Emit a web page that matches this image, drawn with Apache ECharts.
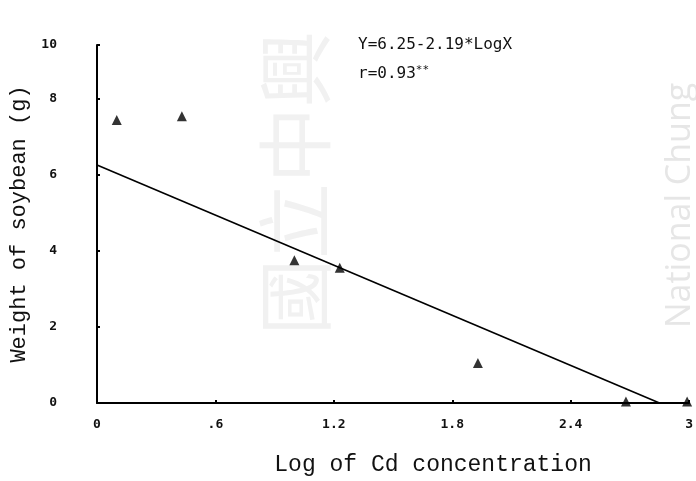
<!DOCTYPE html>
<html>
<head>
<meta charset="utf-8">
<script src="https://cdn.jsdelivr.net/npm/echarts@6/dist/echarts.min.js"></script>
<style>html,body{margin:0;padding:0;background:#fff}#c{width:696px;height:481px}</style>
</head>
<body>
<div id="c"></div>
<script>
// Observed points: log of Cd concentration vs weight of soybean (g)
var logCd   = [0.10, 0.43, 1.00, 1.23, 1.93, 2.68, 2.99];
var weight  = [7.43, 7.53, 3.75, 3.55, 1.05, 0.04, 0.04];
// Regression line endpoints (Y = 6.25 - 2.19*LogX)
var fitX = [0, 2.85];
var fitY = [6.25, 0];
// Tick labels
var xTickLabels = ['0', '.6', '1.2', '1.8', '2.4', '3'];
var yTickLabels = ['0', '2', '4', '6', '8', '10'];
var eqText = 'Y=6.25-2.19*LogX';
var rText = 'r=0.93';

var chart = echarts.init(document.getElementById('c'));
var tickFont = {fontFamily: 'DejaVu Sans Mono', fontWeight: 'bold', fontSize: 13, color: '#111'};
chart.setOption({
  backgroundColor: '#fff',
  animation: false,
  grid: {left: 97, top: 45, width: 594, height: 366, containLabel: false},
  graphic: [
    {type: 'text', x: 295, y: 335, rotation: Math.PI / 2, z: -10,
     style: {text: '國立中興', font: '76px "Noto Sans CJK TC"', fill: '#f1f1f1', align: 'left', verticalAlign: 'middle'}},
    {type: 'text', x: 680, y: 328, rotation: Math.PI / 2, z: -10,
     style: {text: 'National Chung', font: '34px "Open Sans"', fill: '#e6e6e6', align: 'left', verticalAlign: 'middle'}},
    {type: 'text', x: 358, y: 45, z: 10,
     style: {text: eqText, font: '16px "DejaVu Sans Mono"', fill: '#111', verticalAlign: 'middle'}},
    {type: 'text', x: 358, y: 74, z: 10,
     style: {text: rText + '{s|**}', font: '16px "DejaVu Sans Mono"', fill: '#111', verticalAlign: 'middle',
             rich: {s: {fontSize: 11, fontFamily: 'DejaVu Sans Mono', verticalAlign: 'top', padding: [0, 0, 8, 0]}}}}
  ],
  xAxis: {
    type: 'value', min: 0, max: 3, interval: 0.6,
    name: 'Log of Cd concentration', nameLocation: 'middle', nameGap: 50,
    nameTextStyle: {fontFamily: 'Liberation Mono', fontSize: 23, color: '#111', padding: [0, 0, 0, 80]},
    axisLine: {lineStyle: {color: '#000', width: 2}},
    axisTick: {show: true, inside: true, length: 3, lineStyle: {color: '#000', width: 2}},
    splitLine: {show: false},
    axisLabel: Object.assign({margin: 15, formatter: function (v) { return xTickLabels[Math.round(v / 0.6)]; }}, tickFont)
  },
  yAxis: {
    type: 'value', min: 0, max: 9.4, interval: 2,
    name: 'Weight of soybean (g)', nameLocation: 'middle', nameGap: 65, nameRotate: 90,
    nameTextStyle: {fontFamily: 'Liberation Mono', fontSize: 22, color: '#111'},
    axisLine: {show: true, lineStyle: {color: '#000', width: 2}},
    axisTick: {show: true, inside: true, length: 3, lineStyle: {color: '#000', width: 2}},
    splitLine: {show: false},
    axisLabel: Object.assign({margin: 40, formatter: function (v, i) { return yTickLabels[i]; }}, tickFont)
  },
  series: [
    {type: 'line', data: fitX.map(function (x, i) { return [x, fitY[i]]; }), symbol: 'none',
     lineStyle: {color: '#000', width: 1.6}, z: 2},
    {type: 'scatter', data: logCd.map(function (x, i) { return [x, weight[i]]; }), symbol: 'triangle',
     symbolSize: 10, itemStyle: {color: '#000'}, z: 3}
  ]
});
</script>
</body>
</html>
